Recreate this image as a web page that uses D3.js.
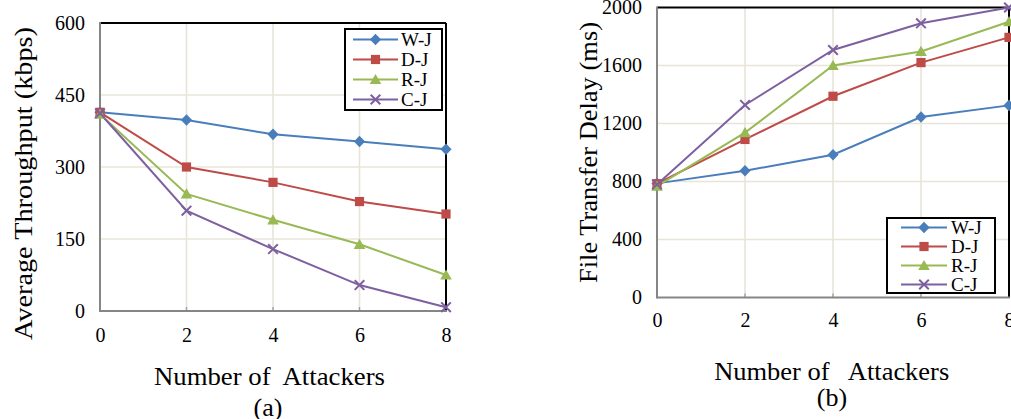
<!DOCTYPE html>
<html>
<head>
<meta charset="UTF-8" />
<title>Attackers</title>
<script src="https://cdn.jsdelivr.net/npm/d3@7"></script>
<style>
    body { margin: 0; background: #fff; }
    svg text { font-family: "Liberation Serif", "DejaVu Serif", serif; fill: #000; }
</style>
</head>
<body>
<svg id="chart" width="1011" height="419"></svg>
<script>
// data
var attackers = [0, 2, 4, 6, 8];
var seriesNames = ["W-J", "D-J", "R-J", "C-J"];

var throughputWJ = [414, 398, 368, 353, 337];
var throughputDJ = [414, 300, 268, 228, 202];
var throughputRJ = [410, 244, 190, 139, 75];
var throughputCJ = [412, 209, 129, 54, 8];
var throughputTicks = [0, 150, 300, 450, 600];

var delayWJ = [787, 874, 985, 1245, 1325];
var delayDJ = [785, 1090, 1388, 1620, 1794];
var delayRJ = [768, 1137, 1600, 1697, 1902];
var delayCJ = [780, 1328, 1707, 1891, 2000];
var delayTicks = [0, 400, 800, 1200, 1600, 2000];

var colors = ["#4a7ebb", "#be4b48", "#98b954", "#7d60a0"];
var shapes = ["diamond", "square", "triangle", "cross"];
var serif = "'Liberation Serif', 'DejaVu Serif', serif";

var svg = d3.select("#chart");

function markerPath(shape) {
    if (shape == "diamond") return "M0,-5.8L5.6,0L0,5.8L-5.6,0Z";
    if (shape == "square") return "M-4.6,-4.6H4.6V4.6H-4.6Z";
    if (shape == "triangle") return "M0,-5.6L5.8,4.6H-5.8Z";
    return "M-4.8,-4.8L4.8,4.8M-4.8,4.8L4.8,-4.8";
}

function drawMarker(g, shape, color) {
    var p = g.append("path").attr("d", markerPath(shape));
    if (shape == "cross") {
        p.attr("fill", "none").attr("stroke", color).attr("stroke-width", 2);
    } else {
        p.attr("fill", color);
    }
}

function drawPanel(o) {
    var x = d3.scaleLinear().domain([0, 8]).range([o.left, o.right]);
    var y = d3.scaleLinear().domain([0, o.ticks[o.ticks.length - 1]]).range([o.bottom, o.top]);
    var g = svg.append("g").style("font-family", serif);

    // gridlines
    g.selectAll(".vgrid").data(attackers.slice(1, -1)).enter().append("line")
        .attr("x1", function(d){ return x(d); }).attr("x2", function(d){ return x(d); })
        .attr("y1", o.top).attr("y2", o.bottom)
        .attr("stroke", "#e8e4d8").attr("stroke-width", 1.6);
    g.selectAll(".hgrid").data(o.ticks.slice(1, -1)).enter().append("line")
        .attr("x1", o.left).attr("x2", o.right)
        .attr("y1", function(d){ return y(d); }).attr("y2", function(d){ return y(d); })
        .attr("stroke", "#e8e4d8").attr("stroke-width", 1.6);

    // small inside ticks on bottom axis
    g.selectAll(".tk").data(attackers.slice(1, -1)).enter().append("line")
        .attr("x1", function(d){ return x(d); }).attr("x2", function(d){ return x(d); })
        .attr("y1", o.bottom - 4).attr("y2", o.bottom)
        .attr("stroke", "#a0a0a0").attr("stroke-width", 1.4);

    // frame: top/right black, left/bottom grey
    g.append("line").attr("x1", o.left).attr("x2", o.right).attr("y1", o.top).attr("y2", o.top)
        .attr("stroke", "#000").attr("stroke-width", 2);
    g.append("line").attr("x1", o.right).attr("x2", o.right).attr("y1", o.top).attr("y2", o.bottom)
        .attr("stroke", "#000").attr("stroke-width", 2);
    g.append("line").attr("x1", o.left).attr("x2", o.right + 1).attr("y1", o.bottom).attr("y2", o.bottom)
        .attr("stroke", "#868686").attr("stroke-width", 2);
    g.append("line").attr("x1", o.left).attr("x2", o.left).attr("y1", o.top - 1).attr("y2", o.bottom + 1)
        .attr("stroke", "#868686").attr("stroke-width", 2);

    // tick labels via axes
    var ya = g.append("g").attr("transform", "translate(" + o.left + ",0)")
        .call(d3.axisLeft(y).tickValues(o.ticks).tickFormat(d3.format("d")).tickSize(0).tickPadding(15));
    var xa = g.append("g").attr("transform", "translate(0," + o.bottom + ")")
        .call(d3.axisBottom(x).tickValues(attackers).tickFormat(d3.format("d")).tickSize(0).tickPadding(o.xPad));
    [ya, xa].forEach(function(a) {
        a.select(".domain").remove();
        a.attr("font-family", null).attr("font-size", null);
        a.selectAll("text").style("font-size", "20px").attr("fill", "#000")
            .style("font-family", serif);
    });

    // series
    var line = d3.line().x(function(d, i){ return x(attackers[i]); }).y(function(d){ return y(d); });
    o.series.forEach(function(s, k) {
        g.append("path").datum(s).attr("d", line)
            .attr("fill", "none").attr("stroke", colors[k]).attr("stroke-width", 2);
    });
    o.series.forEach(function(s, k) {
        s.forEach(function(v, i) {
            var m = g.append("g").attr("transform", "translate(" + x(attackers[i]) + "," + y(v) + ")");
            drawMarker(m, shapes[k], colors[k]);
        });
    });

    // legend
    var L = o.legend;
    g.append("rect").attr("x", L.x).attr("y", L.y).attr("width", L.w).attr("height", L.h)
        .attr("fill", "#fff").attr("stroke", "#000").attr("stroke-width", 2);
    seriesNames.forEach(function(name, k) {
        var ry = L.y + L.first + k * L.step;
        g.append("line").attr("x1", L.x + L.lx1).attr("x2", L.x + L.lx2).attr("y1", ry).attr("y2", ry)
            .attr("stroke", colors[k]).attr("stroke-width", 2);
        var m = g.append("g").attr("transform", "translate(" + (L.x + (L.lx1 + L.lx2) / 2) + "," + ry + ")");
        drawMarker(m, shapes[k], colors[k]);
        g.append("text").attr("x", L.x + L.tx).attr("y", ry).attr("dy", "0.34em")
            .style("font-size", "19px").text(name);
    });

    // titles
    g.append("text")
        .attr("transform", "translate(" + o.yTitle[0] + "," + o.yTitle[1] + ") rotate(-90)")
        .attr("text-anchor", "middle").style("font-size", "26px")
        .attr("textLength", o.yTitle[2]).attr("lengthAdjust", "spacingAndGlyphs")
        .text(o.yLabel);
    g.append("text").attr("x", o.xTitle[0]).attr("y", o.xTitle[1])
        .attr("text-anchor", "middle").style("font-size", "26px")
        .attr("textLength", o.xTitle[2]).attr("lengthAdjust", "spacingAndGlyphs")
        .style("white-space", "pre")
        .text(o.xLabel);
    g.append("text").attr("x", o.caption[0]).attr("y", o.caption[1])
        .attr("text-anchor", "middle").style("font-size", "26px")
        .text(o.captionText);
}

drawPanel({
    left: 100, right: 446, top: 23, bottom: 311,
    ticks: throughputTicks, xPad: 17,
    series: [throughputWJ, throughputDJ, throughputRJ, throughputCJ],
    legend: { x: 345, y: 29, w: 97, h: 81, first: 10.5, step: 20, lx1: 8, lx2: 53, tx: 56 },
    yLabel: "Average Throughput (kbps)", yTitle: [32, 183.5, 313],
    xLabel: "Number of  Attackers", xTitle: [269.5, 385, 231],
    captionText: "(a)", caption: [268, 416]
});

drawPanel({
    left: 657, right: 1009, top: 7.5, bottom: 297.5,
    ticks: delayTicks, xPad: 15,
    series: [delayWJ, delayDJ, delayRJ, delayCJ],
    legend: { x: 887, y: 218, w: 108, h: 75, first: 9.5, step: 19, lx1: 14, lx2: 60, tx: 64 },
    yLabel: "File Transfer Delay (ms)", yTitle: [597, 152.5, 261],
    xLabel: "Number of   Attackers", xTitle: [831.7, 379.5, 235],
    captionText: "(b)", caption: [832, 406]
});
</script>
</body>
</html>
